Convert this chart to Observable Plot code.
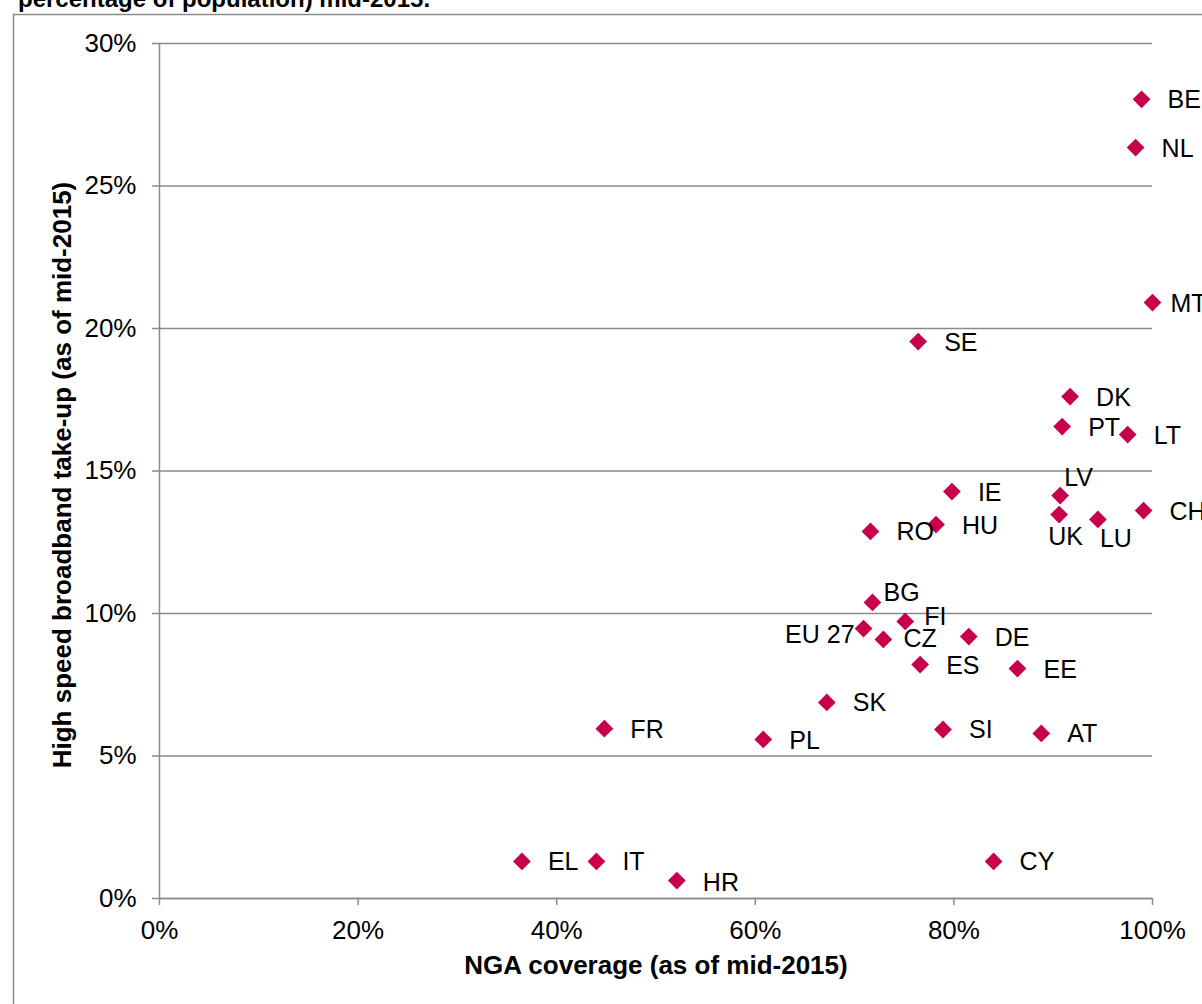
<!DOCTYPE html>
<html>
<head>
<meta charset="utf-8">
<script src="https://cdn.jsdelivr.net/npm/d3@7"></script>
<script src="https://cdn.jsdelivr.net/npm/@observablehq/plot@0.6"></script>
<style>
  html, body { margin: 0; padding: 0; background: #fff; overflow: hidden; }
  #chart svg { display: block; }
</style>
</head>
<body>
<div id="chart"></div>
<script>
// ---- Data ----
const countries = ["BE","NL","MT","SE","DK","PT","LT","LV","IE","CH","UK","LU","HU","RO","BG","FI","EU 27","CZ","DE","ES","EE","SK","SI","AT","PL","FR","EL","IT","HR","CY"];
const ngaCoverage = [0.989,0.983,1.000,0.764,0.917,0.909,0.975,0.907,0.798,0.991,0.906,0.945,0.782,0.716,0.718,0.751,0.709,0.729,0.815,0.766,0.864,0.672,0.789,0.888,0.608,0.448,0.365,0.440,0.521,0.840];
const takeUp = [0.2804,0.2635,0.2091,0.1954,0.1761,0.1656,0.1628,0.1414,0.1428,0.1361,0.1347,0.1330,0.1312,0.1288,0.1039,0.0972,0.0947,0.0909,0.0919,0.0821,0.0807,0.0688,0.0593,0.0579,0.0558,0.0596,0.0130,0.0130,0.0063,0.0130];
const xTicks = [0, 0.2, 0.4, 0.6, 0.8, 1.0];
const yTicks = [0, 0.05, 0.10, 0.15, 0.20, 0.25, 0.30];

const titleText = "percentage of population) mid-2015.";
const xLabel = "NGA coverage (as of mid-2015)";
const yLabel = "High speed broadband take-up (as of mid-2015)";

// Label placement (offsets in pixels), default: right of the marker
const labelPlacement = {
  "MT": {dx: 18, dy: 1, anchor: "start"},
  "LV": {dx: 4, dy: -18, anchor: "start"},
  "UK": {dx: -11, dy: 22, anchor: "start"},
  "LU": {dx: 2, dy: 20, anchor: "start"},
  "BG": {dx: 11, dy: -9, anchor: "start"},
  "FI": {dx: 19, dy: -4, anchor: "start"},
  "EU 27": {dx: -9, dy: 6, anchor: "end"},
  "CZ": {dx: 20, dy: 0, anchor: "start"},
  "PL": {dx: 26, dy: 2, anchor: "start"},
  "HR": {dx: 26, dy: 2, anchor: "start"}
};
const defaultPlacement = {dx: 26, dy: 1, anchor: "start"};

const data = countries.map((c, i) => ({country: c, x: ngaCoverage[i], y: takeUp[i]}));

const pct = d => Math.round(d * 100) + "%";
const gray = "#8a8a8a";
const markerColor = "#C8004B";
const fontFamily = "'Liberation Sans', Arial, sans-serif";

const labelMarks = data.map(d => {
  const p = labelPlacement[d.country] || defaultPlacement;
  return Plot.text([d], {
    x: "x", y: "y", text: "country",
    dx: p.dx, dy: p.dy, textAnchor: p.anchor,
    fill: "black", fontSize: 25
  });
});

const chart = Plot.plot({
  width: 1202,
  height: 1004,
  marginLeft: 159,
  marginRight: 50,
  marginTop: 43,
  marginBottom: 106,
  style: {fontFamily, fontSize: "24px", background: "#fff", color: "black", overflow: "visible"},
  x: {domain: [0, 1]},
  y: {domain: [0, 0.30]},
  marks: [
    Plot.gridY({ticks: yTicks, stroke: gray, strokeOpacity: 1, strokeWidth: 1.5}),
    Plot.ruleX([0], {stroke: gray, strokeWidth: 1.5}),
    Plot.ruleY([0], {stroke: gray, strokeWidth: 1.5}),
    Plot.axisY({ticks: yTicks, tickSize: 7, tickPadding: 16, tickFormat: pct, stroke: gray, strokeWidth: 1.5, fill: "black", fontSize: 26, label: null}),
    Plot.axisX({ticks: xTicks, tickSize: 7, tickPadding: 15, tickFormat: pct, stroke: gray, strokeWidth: 1.5, fill: "black", fontSize: 26, label: null}),
    Plot.dot(data, {x: "x", y: "y", symbol: "diamond2", r: 8, fill: markerColor, stroke: "none"}),
    ...labelMarks,
    Plot.text([xLabel], {frameAnchor: "bottom", textAnchor: "middle", dy: 75, text: d => d, fontWeight: "bold", fontSize: 26, fill: "black"}),
    Plot.text([yLabel], {frameAnchor: "left", textAnchor: "middle", dx: -97, dy: 4, rotate: -90, text: d => d, fontWeight: "bold", fontSize: 26, fill: "black"})
  ]
});

document.getElementById("chart").appendChild(chart);

// Outer frame and (cut-off) title
const svg = d3.select(chart);
svg.append("path")
  .attr("d", "M13.5,1004V14.5H1202")
  .attr("fill", "none")
  .attr("stroke", gray)
  .attr("stroke-width", 1.5);
svg.append("text")
  .attr("x", 18)
  .attr("y", 7)
  .attr("text-anchor", "start")
  .attr("font-family", fontFamily)
  .attr("font-size", 24)
  .attr("font-weight", "bold")
  .attr("fill", "black")
  .text(titleText);
</script>
</body>
</html>
